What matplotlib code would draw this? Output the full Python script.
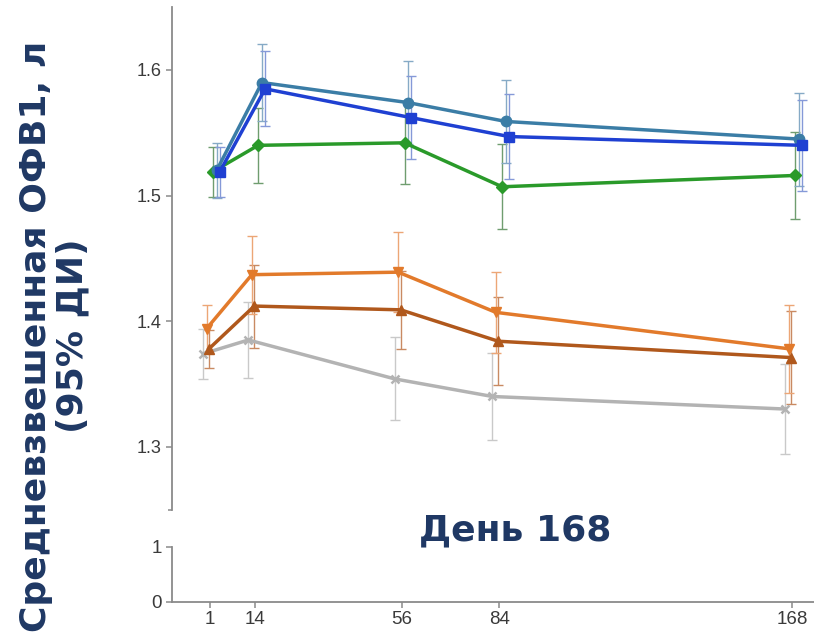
import matplotlib
matplotlib.use("Agg")
import matplotlib.pyplot as plt
import numpy as np

# ---- data ----
days = [1, 14, 56, 84, 168]
day_labels = ["1", "14", "56", "84", "168"]

teal_mean = [1.520, 1.590, 1.574, 1.559, 1.545]
teal_ci = [0.022, 0.031, 0.033, 0.033, 0.037]
blue_mean = [1.519, 1.585, 1.562, 1.547, 1.540]
blue_ci = [0.020, 0.030, 0.033, 0.034, 0.036]
green_mean = [1.519, 1.540, 1.542, 1.507, 1.516]
green_ci = [0.020, 0.030, 0.033, 0.034, 0.035]
orange_mean = [1.394, 1.437, 1.439, 1.407, 1.378]
orange_ci = [0.019, 0.031, 0.032, 0.032, 0.035]
brown_mean = [1.378, 1.412, 1.409, 1.384, 1.371]
brown_ci = [0.015, 0.033, 0.031, 0.035, 0.037]
gray_mean = [1.374, 1.385, 1.354, 1.340, 1.330]
gray_ci = [0.020, 0.030, 0.033, 0.035, 0.036]

upper_ticks = [1.3, 1.4, 1.5, 1.6]
lower_ticks = [0, 1]
ylabel = "Средневзвешенная ОФВ1, л\n(95% ДИ)"
note = "День 168"

navy = "#1f3864"
spine_c = "#8a8a8a"
tick_c = "#3a3a3a"

series = [
    # mean, ci, color, errcolor, marker, ms, dodge(days)
    (gray_mean, gray_ci, "#b3b3b3", "#c9c9c9", "x", 6, -2.0),
    (brown_mean, brown_ci, "#b0581c", "#c98a62", "^", 7, -0.3),
    (orange_mean, orange_ci, "#e27a2b", "#eca676", "v", 7, -1.0),
    (green_mean, green_ci, "#2a9a2a", "#6f9d6f", "D", 6, 0.8),
    (teal_mean, teal_ci, "#3b7da6", "#86aac6", "o", 7.5, 1.9),
    (blue_mean, blue_ci, "#1f40d2", "#8599d8", "s", 7.5, 2.8),
]

fig = plt.figure(figsize=(8.14, 6.39), dpi=100)
W, H = 814, 639
left_px = 171.7
xl = (-10, 174.3)

ax = fig.add_axes([left_px / W, 1 - 509.5 / H, (W - left_px) / W, (509.5 - 7.2) / H])
ax2 = fig.add_axes([left_px / W, 1 - 601.7 / H, (W - left_px) / W, 55.0 / H])

for mean, ci, c, ec, mk, ms, dx in series:
    x = np.array(days, dtype=float) + dx
    ax.errorbar(x, mean, yerr=ci, fmt="none", ecolor=ec, elinewidth=1.0,
                capsize=3.5, capthick=1.0, zorder=1)
    ax.plot(x, mean, color=c, lw=2.5, marker=mk, ms=ms, mfc=c, mec=c,
            mew=1.8 if mk == "x" else 1.0, zorder=3)

ax.set_xlim(*xl)
ax.set_ylim(1.25, 1.65)
ax.set_yticks(upper_ticks)
ax.set_yticklabels([f"{t:.1f}" for t in upper_ticks])
ax.set_yticks([1.25], minor=True)
ax.set_xticks([])
for s in ["top", "right", "bottom"]:
    ax.spines[s].set_visible(False)
ax.spines["left"].set_color(spine_c)
ax.spines["left"].set_linewidth(1.3)
ax.tick_params(axis="y", colors=spine_c, labelcolor=tick_c, labelsize=13,
               length=4, width=1.1, pad=3)
ax.tick_params(axis="y", which="minor", colors=spine_c, length=3, width=1.1)
for lab in ax.get_yticklabels():
    lab.set_family("Liberation Sans")

ax2.set_xlim(*xl)
ax2.set_ylim(0, 1.0)
ax2.set_yticks(lower_ticks)
ax2.set_yticklabels([str(t) for t in lower_ticks])
ax2.set_xticks(days)
ax2.set_xticklabels(day_labels)
for s in ["top", "right"]:
    ax2.spines[s].set_visible(False)
for s in ["left", "bottom"]:
    ax2.spines[s].set_color(spine_c)
    ax2.spines[s].set_linewidth(1.3)
ax2.tick_params(colors=spine_c, labelcolor=tick_c, labelsize=13.5,
                length=4, width=1.1, pad=3)
for lab in ax2.get_yticklabels() + ax2.get_xticklabels():
    lab.set_family("Liberation Sans")
ax2.patch.set_alpha(0)
ax2.set_zorder(-1)

fig.text(515 / W, 1 - 530 / H, note, ha="center", va="center",
         fontsize=26, fontweight="heavy", color=navy, family="DejaVu Sans")
fig.text(54 / W, 1 - 336 / H, ylabel, ha="center", va="center",
         rotation=90, fontsize=26, fontweight="heavy", color=navy,
         family="DejaVu Sans", linespacing=1.1, multialignment="center")

fig.savefig("out.png", dpi=100)
